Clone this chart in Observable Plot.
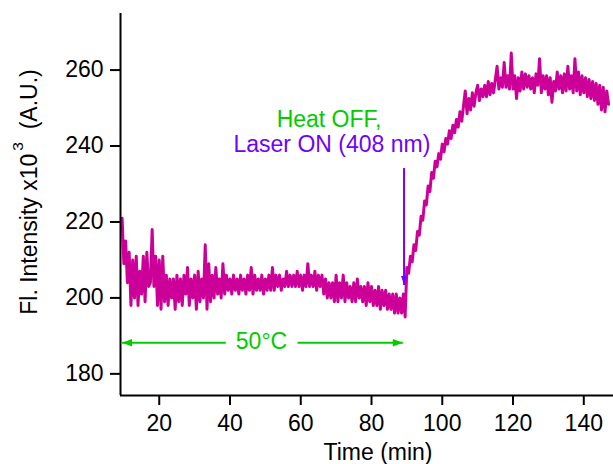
<!DOCTYPE html>
<html><head><meta charset="utf-8">
<script src="https://cdn.jsdelivr.net/npm/d3@7"></script>
<script src="https://cdn.jsdelivr.net/npm/@observablehq/plot@0.6"></script>
<style>body{margin:0;background:#fff} svg{display:block}</style>
</head><body><div id="chart"></div>
<script>
// Time (min)
const time = [
  9.5,10,10.5,11,11.5,12,12.5,13,13.5,14,
  14.5,15,15.5,16,16.5,17,17.5,18,18.5,19,
  19.5,20,20.5,21,21.5,22,22.5,23,23.5,24,
  24.5,25,25.5,26,26.5,27,27.5,28,28.5,29,
  29.5,30,30.5,31,31.5,32,32.5,33,33.5,34,
  34.5,35,35.5,36,36.5,37,37.5,38,38.5,39,
  39.5,40,40.5,41,41.5,42,42.5,43,43.5,44,
  44.5,45,45.5,46,46.5,47,47.5,48,48.5,49,
  49.5,50,50.5,51,51.5,52,52.5,53,53.5,54,
  54.5,55,55.5,56,56.5,57,57.5,58,58.5,59,
  59.5,60,60.5,61,61.5,62,62.5,63,63.5,64,
  64.5,65,65.5,66,66.5,67,67.5,68,68.5,69,
  69.5,70,70.5,71,71.5,72,72.5,73,73.5,74,
  74.5,75,75.5,76,76.5,77,77.5,78,78.5,79,
  79.5,80,80.5,81,81.5,82,82.5,83,83.5,84,
  84.5,85,85.5,86,86.5,87,87.5,88,88.5,89,
  89.5,90,90.5,91,91.5,92,92.5,93,93.5,94,
  94.5,95,95.5,96,96.5,97,97.5,98,98.5,99,
  99.5,100,100.5,101,101.5,102,102.5,103,103.5,104,
  104.5,105,105.5,106,106.5,107,107.5,108,108.5,109,
  109.5,110,110.5,111,111.5,112,112.5,113,113.5,114,
  114.5,115,115.5,116,116.5,117,117.5,118,118.5,119,
  119.5,120,120.5,121,121.5,122,122.5,123,123.5,124,
  124.5,125,125.5,126,126.5,127,127.5,128,128.5,129,
  129.5,130,130.5,131,131.5,132,132.5,133,133.5,134,
  134.5,135,135.5,136,136.5,137,137.5,138,138.5,139,
  139.5,140,140.5,141,141.5,142,142.5,143,143.5,144,
  144.5,145,145.5,146,146.5,147
];
// Fl. intensity (x10^3 A.U.)
const intensity = [
  221,209,215,204,212,198,210,200,211,198,
  207,201,211,199,212,203,204,218,203,211,
  198,210,197,211,199,206,198,205,200,205,
  197,206,199,205,198,206,201,208,198,205,
  200,206,197,207,199,205,200,214,197,209,
  199,206,200,208,201,205,200,209,201,206,
  202,205,201,206,202,205,201,206,202,205,
  201,206,202,208,201,206,202,205,202,206,
  201,205,202,206,202,208,202,206,203,206,
  202,205,203,207,203,206,203,206,203,207,
  203,206,202,206,203,209,203,206,203,207,
  202,206,203,206,201,205,200,204,200,204,
  199,206,199,204,200,206,199,204,200,203,
  199,204,199,205,200,203,199,203,198,204,
  199,203,198,202,198,203,197,202,198,202,
  197,201,197,201,196,201,196,200,196,201,
  195,208,206.5,211,209.5,214,212.5,217.5,216.5,221.5,
  220.5,225.5,224.5,229.5,228,233,231.5,236,234.5,238,
  236.5,240.5,238.5,242,240.5,244,242,245.5,243.5,247,
  245,249,246.5,250.5,254.5,248.5,252.5,249.5,254,250.5,
  254,256,252,255,253,256,253,257,253.5,256.5,
  254,257.5,261,255,258,255.5,262,255.5,258.5,255,
  264.5,255,258.5,252.5,258,254.5,259.5,255,259,255.5,
  258.5,255,258,254,259,256,263,254,258.5,255,
  258.5,253.5,258,251.5,257,254.5,259.5,255,258.5,254,
  259,254.5,261,255,258.5,254,263,254.5,259.5,253.5,
  258.5,254,258,253,257.5,252.5,257,252,256.5,251,
  256,249.5,255.5,249,254.5,251
];
const xTicks = [20, 40, 60, 80, 100, 120, 140];
const yTicks = [180, 200, 220, 240, 260];
const xDomain = [9.05, 148.4];
const yDomain = [174.3, 274.9];
const xLabel = "Time (min)";
const yLabelMain = "Fl. Intensity x10";
const yLabelSup = "3";
const yLabelUnit = "\u00a0\u00a0(A.U.)";
const heatLabel = ["Heat OFF,"];
const laserLabel = ["Laser ON (408 nm)"];
const tempLabel = ["50°C"];
// annotation anchors (data units)
const laserArrow = {x: 89.2, y1: 234.2, y2: 203.4};
const tempSegments = [{x1: 9.5, x2: 38.8}, {x1: 59.1, x2: 88.85}];
const tempY = 188.2;

const rows = time.map((t, i) => ({t, v: intensity[i]}));

const headLong = {draw(ctx) { ctx.moveTo(0, 0); ctx.lineTo(-10, -3.8); ctx.lineTo(-10, 3.8); ctx.closePath(); }};
const headSmall = {draw(ctx) { ctx.moveTo(0, 0); ctx.lineTo(-9, -3); ctx.lineTo(-9, 3); ctx.closePath(); }};

const green = "#00CC00";
const purple = "#7000FF";
const font = "'Liberation Sans', Arial, Helvetica, sans-serif";

const plot = Plot.plot({
  width: 613,
  height: 464,
  marginLeft: 120,
  marginRight: 0,
  marginTop: 13,
  marginBottom: 69,
  style: {fontFamily: font, fontSize: "23px", background: "white"},
  x: {domain: xDomain},
  y: {domain: yDomain},
  marks: [
    Plot.axisX(xTicks, {tickSize: 10, tickPadding: 9, strokeWidth: 2, fontSize: 23, label: null}),
    Plot.axisY(yTicks, {tickSize: 10, tickPadding: 7, strokeWidth: 2, fontSize: 23, label: null}),
    Plot.line(rows, {x: "t", y: "v", stroke: "#CC0099", strokeWidth: 3, strokeLinejoin: "round"}),
    Plot.ruleX([xDomain[0]], {stroke: "black", strokeWidth: 2}),
    Plot.ruleY([yDomain[0]], {stroke: "black", strokeWidth: 2}),
    // 50°C double arrow
    Plot.link(tempSegments, {x1: "x1", x2: "x2", y1: () => tempY, y2: () => tempY, stroke: green, strokeWidth: 2}),
    Plot.dot([tempSegments[0].x1], {x: d => d, y: () => tempY, symbol: headLong, rotate: 180, fill: green, stroke: "none", r: 4}),
    Plot.dot([tempSegments[1].x2], {x: d => d, y: () => tempY, symbol: headLong, rotate: 0, fill: green, stroke: "none", r: 4}),
    Plot.text(tempLabel, {x: () => 48.9, y: () => 188.45, fill: green, fontSize: 23, fontFamily: font}),
    // laser arrow
    Plot.link([laserArrow], {x1: "x", x2: "x", y1: "y1", y2: "y2", stroke: purple, strokeWidth: 2}),
    Plot.dot([laserArrow], {x: "x", y: "y2", symbol: headSmall, rotate: 90, fill: purple, stroke: "none", r: 4}),
    Plot.text(heatLabel, {x: () => 68.0, y: () => 247.0, fill: green, fontSize: 23, fontFamily: font}),
    Plot.text(laserLabel, {x: () => 68.8, y: () => 240.4, fill: purple, fontSize: 23, fontFamily: font})
  ]
});

const svg = d3.select(plot);
svg.append("text")
  .attr("x", 378).attr("y", 459.5)
  .attr("text-anchor", "middle")
  .attr("font-family", font).attr("font-size", 23).attr("fill", "black")
  .text(xLabel);
const yl = svg.append("text")
  .attr("transform", "translate(37,192) rotate(-90)")
  .attr("text-anchor", "middle")
  .attr("font-family", font).attr("font-size", 23).attr("fill", "black");
yl.append("tspan").text(yLabelMain);
yl.append("tspan").attr("dx", 3).attr("dy", -14).attr("font-size", 15.5).text(yLabelSup);
yl.append("tspan").attr("dy", 14).text(yLabelUnit);

document.getElementById("chart").appendChild(plot);
</script>
</body></html>
